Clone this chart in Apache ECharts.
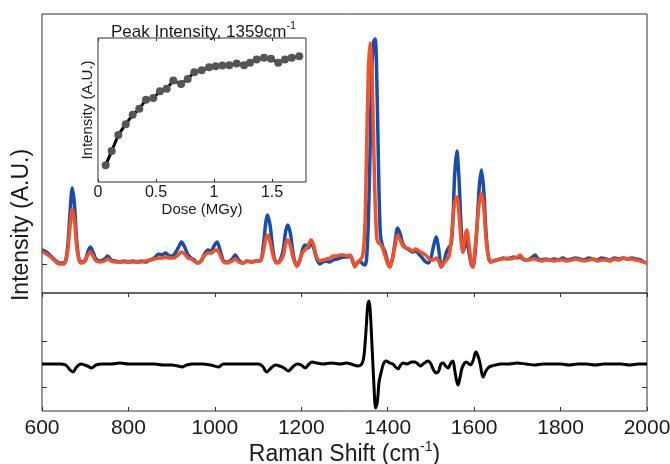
<!DOCTYPE html>
<html>
<head>
<meta charset="utf-8">
<script src="https://cdn.jsdelivr.net/npm/echarts@6/dist/echarts.min.js"></script>
<style type="text/css">
    html, body { margin: 0; padding: 0; background: #fff; }
    #main { width: 670px; height: 464px; }
</style>
</head>
<body>
<div id="main"></div>
<script>
    // Raman shift positions (cm-1) for the two spectra
    var shift = [600, 610, 620, 630, 640, 650, 655, 660, 665, 670, 675, 680, 685, 690, 700, 706, 712, 718, 725, 735,
        745, 752, 760, 770, 780, 790, 800, 810, 820, 830, 840, 850, 860, 870, 878, 886, 895, 905, 915, 923,
        930, 938, 945, 952, 960, 968, 975, 984, 992, 998, 1005, 1012, 1020, 1030, 1040, 1047, 1055, 1065, 1075, 1085,
        1095, 1105, 1112, 1118, 1122, 1128, 1135, 1142, 1150, 1158, 1164, 1169, 1175, 1182, 1190, 1197, 1204, 1210, 1216, 1222,
        1228, 1235, 1243, 1250, 1258, 1266, 1274, 1282, 1290, 1298, 1306, 1313, 1318, 1324, 1330, 1336, 1342, 1347, 1351, 1355,
        1359, 1363, 1367, 1371, 1375, 1379, 1383, 1388, 1394, 1400, 1405, 1411, 1417, 1423, 1429, 1435, 1442, 1450, 1458, 1465,
        1472, 1480, 1488, 1494, 1500, 1506, 1512, 1518, 1524, 1530, 1536, 1542, 1547, 1551, 1555, 1560, 1565, 1570, 1574, 1579,
        1583, 1588, 1593, 1597, 1602, 1607, 1612, 1617, 1622, 1627, 1632, 1638, 1645, 1652, 1660, 1668, 1676, 1684, 1692, 1700,
        1706, 1712, 1720, 1728, 1735, 1741, 1748, 1756, 1765, 1775, 1785, 1795, 1805, 1815, 1825, 1835, 1845, 1855, 1865, 1875,
        1885, 1895, 1905, 1915, 1925, 1935, 1945, 1955, 1965, 1975, 1985, 1993, 2000];

    // before irradiation (blue)
    var blueSpec = [14, 12, 8, 4, 1, 1, 4, 20, 52, 76, 60, 25, 6, 2, 4, 12, 17, 12, 5, 3,
        5, 8, 4, 3, 2, 3, 2, 3, 2, 3, 2, 4, 6, 10, 9, 11, 8, 9, 16, 22,
        17, 9, 6, 4, 1, 3, 9, 14, 13, 18, 22, 14, 3, 2, 5, 9, 4, 1, 3, 2,
        3, 3, 18, 42, 49, 38, 12, 2, 3, 14, 33, 39, 30, 8, -2, 4, 16, 19, 16, 20,
        17, 6, 0, 2, 3, 2, 4, 5, 6, 7, 7, 8, 4, -2, 1, 3, 0, -1, 5, 40,
        110, 190, 222, 225, 180, 90, 30, 18, 12, 2, -3, 5, 22, 36, 30, 20, 16, 14, 12, 13,
        10, 6, 2, 1, 6, 18, 27, 15, -3, 2, 12, 17, 20, 45, 90, 113, 85, 35, 12, 18,
        24, 12, 0, -3, 10, 40, 78, 94, 75, 35, 10, 2, 3, 4, 5, 6, 5, 6, 7, 6,
        7, 5, 4, 5, 7, 9, 5, 4, 5, 4, 5, 4, 6, 4, 5, 6, 5, 4, 6, 5,
        4, 6, 5, 4, 6, 5, 6, 5, 6, 5, 4, 2, 1];

    // after irradiation (orange)
    var orangeSpec = [12, 10, 7, 3, 0, 0, 3, 15, 38, 55, 44, 18, 5, 1, 3, 9, 12, 8, 3, 2,
        3, 5, 3, 2, 2, 2, 2, 2, 2, 2, 3, 4, 5, 6, 6, 7, 6, 6, 9, 12,
        10, 6, 5, 3, 1, 3, 8, 11, 11, 13, 14, 9, 2, 1, 3, 5, 2, 1, 3, 2,
        3, 3, 12, 26, 29, 22, 8, 1, 2, 8, 20, 24, 18, 5, -2, 5, 12, 15, 18, 24,
        20, 8, 3, 4, 5, 6, 8, 8, 9, 9, 8, 9, 5, -3, 2, 4, 8, 35, 110, 190,
        221, 200, 130, 60, 25, 21, 20, 16, 8, 0, -3, 6, 18, 29, 24, 18, 16, 15, 13, 15,
        13, 11, 9, 6, 4, 4, 6, 3, -3, 1, 4, 8, 25, 45, 62, 67, 50, 22, 12, 28,
        34, 20, 2, -3, 15, 40, 62, 71, 58, 28, 9, 2, 3, 4, 5, 5, 6, 5, 6, 7,
        9, 6, 4, 4, 5, 5, 4, 3, 4, 4, 3, 4, 4, 3, 4, 5, 4, 3, 4, 5,
        3, 4, 4, 3, 5, 4, 6, 5, 5, 4, 3, 2, 1];

    // difference spectrum (black, lower panel)
    var diffShift = [600, 620, 640, 655, 665, 672, 680, 690, 705, 715, 725, 740, 760, 780, 800, 820, 840, 860, 880, 900,
        915, 924, 935, 950, 970, 990, 1008, 1020, 1040, 1060, 1080, 1100, 1110, 1120, 1130, 1140, 1150, 1160, 1170, 1180,
        1190, 1200, 1209, 1218, 1225, 1235, 1250, 1270, 1290, 1305, 1315, 1331, 1340, 1345, 1350, 1354, 1357, 1360, 1364, 1368,
        1372, 1376, 1380, 1385, 1390, 1396, 1405, 1412, 1418, 1424, 1430, 1436, 1445, 1455, 1463, 1470, 1475, 1482, 1493, 1500,
        1506, 1512, 1518, 1523, 1528, 1534, 1540, 1546, 1551, 1555, 1560, 1563, 1567, 1572, 1578, 1582, 1588, 1592, 1598, 1604,
        1609, 1614, 1618, 1621, 1626, 1632, 1640, 1650, 1660, 1680, 1700, 1720, 1740, 1760, 1780, 1800, 1820, 1840, 1860, 1880,
        1900, 1920, 1940, 1960, 1980, 2000];
    var diffSpec = [0, 0, 0, -1, -6, -8, -3, 0, -2, -4, -1, 0, 0, 1, 0, 0, 0, 0, -1, -1,
        -2, -3, -1, 0, 0, -1, -3, 0, 0, 0, 0, 0, -2, -8, -4, -1, -2, -4, -7, -3,
        0, -1, -4, 0, 2, 1, 0, 1, 0, 1, 0, -2, 0, 8, 35, 60, 63, 50, 15, -20,
        -44, -38, -18, -8, 0, 3, 1, 0, -3, -5, -1, 1, 0, 2, 2, 0, -2, 0, 3, 0,
        -6, -9, -7, 0, 1, -2, -4, 1, 3, -6, -18, -21, -14, -4, 1, 2, 0, -1, 4, 12,
        8, 0, -10, -13, -8, -4, -2, -1, 0, 0, 1, 0, -1, 0, 0, 0, -1, 0, 0, -1,
        0, 0, 0, -1, 0, 0];

    // inset: peak intensity at 1359 cm-1 vs dose
    var dose = [0.066, 0.118, 0.175, 0.239, 0.299, 0.356, 0.414, 0.477, 0.534, 0.592, 0.649, 0.716, 0.773, 0.830, 0.894,
        0.957, 1.014, 1.072, 1.132, 1.195, 1.259, 1.31, 1.368, 1.431, 1.491, 1.554, 1.612, 1.670, 1.735];
    var peakInt = [16.7, 30.7, 46.7, 57.4, 66.7, 72.7, 81.7, 83.4, 90, 92.7, 100.7, 97.4, 102.4, 109, 111,
        114, 115, 115.7, 116, 117.7, 116, 118.4, 121.7, 123.4, 122.4, 118.4, 121.7, 123.4, 125];

    var doseTicks = [0, 0.5, 1, 1.5];
    var shiftTicks = [600, 800, 1000, 1200, 1400, 1600, 1800, 2000];

    function pairs(xs, ys) {
        var out = [];
        for (var i = 0; i < xs.length; i++) {
            out.push([xs[i], ys[i]]);
        }
        return out;
    }

    // plain numbers, no thousands separator
    function plain(v) {
        return String(v);
    }

    var fontFam = 'Liberation Sans, Arial, sans-serif';
    var ink = '#1a1a1a';
    var frame = '#333';
    var noLine = { show: false, onZero: false };

    var chart = echarts.init(document.getElementById('main'));

    var option = {
        animation: false,
        backgroundColor: '#fff',
        textStyle: { fontFamily: fontFam, color: ink },
        title: {
            text: '{a|Peak Intensity, 1359cm}{s|-1}',
            left: 106,
            top: 15,
            textStyle: {
                fontWeight: 'normal',
                rich: {
                    a: { fontSize: 17, fontFamily: fontFam, fontWeight: 'normal', color: ink, verticalAlign: 'bottom', lineHeight: 21 },
                    s: { fontSize: 11, fontFamily: fontFam, fontWeight: 'normal', color: ink, verticalAlign: 'top', lineHeight: 21 }
                }
            }
        },
        graphic: [{
            type: 'text',
            x: 22,
            y: 225,
            rotation: Math.PI / 2,
            style: {
                text: 'Intensity (A.U.)',
                fontSize: 23,
                fontFamily: fontFam,
                fill: ink,
                align: 'center',
                verticalAlign: 'middle'
            }
        }],
        grid: [
            { left: 42, top: 14, width: 605, height: 279, show: true, borderColor: frame, borderWidth: 1, outerBoundsMode: 'none' },
            { left: 42, top: 293, width: 605, height: 118, show: true, borderColor: frame, borderWidth: 1, outerBoundsMode: 'none' },
            { left: 98, top: 38, width: 208, height: 144, show: true, borderColor: frame, borderWidth: 1, backgroundColor: '#fff', z: 5, outerBoundsMode: 'none' }
        ],
        xAxis: [
            {
                gridIndex: 0, type: 'value', min: 600, max: 2000,
                axisLine: noLine, axisTick: { show: false }, axisLabel: { show: false }, splitLine: { show: false }
            },
            {
                gridIndex: 1, type: 'value', min: 600, max: 2000, interval: 200, position: 'bottom',
                axisLine: noLine,
                axisTick: { inside: true, length: 4, lineStyle: { color: frame } },
                axisLabel: { fontSize: 21, color: ink, margin: 7, customValues: shiftTicks, formatter: plain },
                splitLine: { show: false },
                name: '{a|Raman Shift (cm}{s|-1}{a|)}',
                nameLocation: 'middle',
                nameGap: 28,
                nameTextStyle: {
                    rich: {
                        a: { fontSize: 23, fontFamily: fontFam, color: ink, verticalAlign: 'bottom', lineHeight: 26 },
                        s: { fontSize: 14, fontFamily: fontFam, color: ink, verticalAlign: 'top', lineHeight: 26 }
                    }
                }
            },
            {
                gridIndex: 1, type: 'value', min: 600, max: 2000, interval: 200, position: 'top',
                axisLine: noLine,
                axisTick: { inside: true, length: 4, lineStyle: { color: frame } },
                axisLabel: { show: false }, splitLine: { show: false }
            },
            {
                gridIndex: 2, type: 'value', min: 0, max: 1.793, position: 'bottom',
                axisLine: noLine,
                axisTick: { inside: true, length: 3, customValues: doseTicks, lineStyle: { color: frame } },
                axisLabel: { fontSize: 16, color: ink, margin: 3, customValues: doseTicks, formatter: plain },
                splitLine: { show: false },
                name: 'Dose (MGy)', nameLocation: 'middle', nameGap: 19,
                nameTextStyle: { fontSize: 15, color: ink }, z: 6
            },
            {
                gridIndex: 2, type: 'value', min: 0, max: 1.793, position: 'top',
                axisLine: noLine,
                axisTick: { inside: true, length: 3, customValues: doseTicks, lineStyle: { color: frame } },
                axisLabel: { show: false }, splitLine: { show: false }, z: 6
            }
        ],
        yAxis: [
            {
                gridIndex: 0, type: 'value', min: -29, max: 250,
                axisLine: noLine,
                axisTick: { inside: true, length: 5, customValues: [0], lineStyle: { color: frame } },
                axisLabel: { show: false }, splitLine: { show: false }
            },
            {
                gridIndex: 1, type: 'value', min: -47, max: 71, position: 'left',
                axisLine: noLine,
                axisTick: { inside: true, length: 5, customValues: [-23, 0, 23], lineStyle: { color: frame } },
                axisLabel: { show: false }, splitLine: { show: false }
            },
            {
                gridIndex: 1, type: 'value', min: -47, max: 71, position: 'right',
                axisLine: noLine,
                axisTick: { inside: true, length: 5, customValues: [-23, 0, 23], lineStyle: { color: frame } },
                axisLabel: { show: false }, splitLine: { show: false }
            },
            {
                gridIndex: 2, type: 'value', min: 0, max: 143,
                axisLine: noLine, axisTick: { show: false }, axisLabel: { show: false }, splitLine: { show: false },
                name: 'Intensity (A.U.)', nameLocation: 'middle', nameGap: 3,
                nameTextStyle: { fontSize: 15, color: ink }, z: 6
            }
        ],
        series: [
            {
                name: 'before', type: 'line', xAxisIndex: 0, yAxisIndex: 0,
                data: pairs(shift, blueSpec), smooth: 0.3, showSymbol: false,
                lineStyle: { color: '#1a4ea6', width: 3.5 }, z: 2
            },
            {
                name: 'after', type: 'line', xAxisIndex: 0, yAxisIndex: 0,
                data: pairs(shift, orangeSpec), smooth: 0.3, showSymbol: false,
                lineStyle: { color: '#f2522a', width: 3.5 }, z: 3
            },
            {
                name: 'difference', type: 'line', xAxisIndex: 1, yAxisIndex: 1,
                data: pairs(diffShift, diffSpec), smooth: 0.3, showSymbol: false,
                lineStyle: { color: '#000', width: 3 }
            },
            {
                name: 'peak', type: 'line', xAxisIndex: 3, yAxisIndex: 3,
                data: pairs(dose, peakInt), symbol: 'circle', symbolSize: 8,
                itemStyle: { color: '#555' },
                lineStyle: { color: '#000', width: 3 }, z: 7
            }
        ]
    };

    chart.setOption(option);
</script>
</body>
</html>
